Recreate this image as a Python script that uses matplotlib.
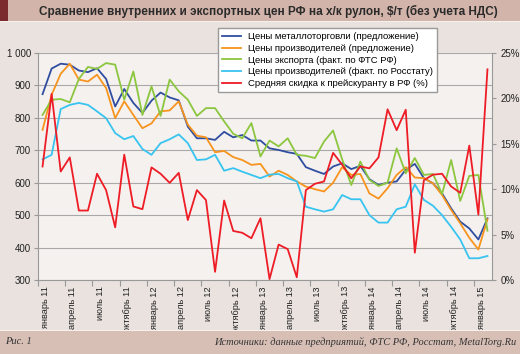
import matplotlib
matplotlib.use('Agg')
import matplotlib.pyplot as plt
import matplotlib.transforms as mtransforms
from matplotlib.patches import Rectangle
from matplotlib.ticker import FuncFormatter
import numpy as np

plt.rcParams['font.family'] = ['Liberation Sans', 'DejaVu Sans']

# monthly, Jan 2011 .. Feb 2015
trade = [873, 952, 967, 964, 946, 941, 953, 920, 835, 889, 846, 815, 853, 878, 863, 854,
         773, 737, 737, 732, 757, 740, 747, 730, 730, 706, 701, 694, 689, 648, 637, 627,
         650, 660, 642, 652, 611, 593, 600, 604, 640, 658, 614, 598, 567, 521, 480, 459,
         425, 490]
producers = [763, 871, 936, 967, 918, 912, 933, 892, 799, 851, 809, 768, 783, 820, 823, 851,
             779, 745, 740, 694, 698, 679, 670, 655, 658, 619, 637, 624, 604, 588, 580, 573,
             600, 648, 624, 627, 567, 551, 583, 624, 648, 616, 614, 598, 562, 516, 475, 430,
             394, 487]
export = [809, 856, 858, 848, 920, 957, 951, 969, 964, 856, 943, 809, 897, 806, 918, 882,
          856, 806, 830, 830, 789, 751, 737, 784, 681, 730, 712, 737, 686, 683, 676, 727,
          761, 672, 593, 665, 609, 590, 600, 706, 629, 676, 624, 627, 565, 670, 544, 621,
          624, 452]
rosstat = [672, 686, 827, 840, 846, 840, 820, 799, 753, 734, 744, 704, 686, 722, 734, 749,
           722, 670, 672, 686, 637, 645, 634, 624, 614, 625, 627, 614, 604, 526, 518, 511,
           518, 562, 549, 549, 500, 477, 477, 518, 526, 595, 547, 529, 500, 464, 425, 367,
           367, 374]
discount = [12.5, 20.5, 11.95, 13.5, 7.65, 7.65, 11.7, 9.9, 5.8, 13.8, 8.1, 7.8, 12.4, 11.7,
            10.7, 11.8, 6.6, 9.9, 8.8, 0.9, 8.75, 5.4, 5.2, 4.6, 6.8, 0.1, 3.9, 3.4, 0.3, 9.9,
            10.6, 10.85, 14.0, 12.7, 11.2, 12.5, 12.3, 13.5, 18.8, 16.5, 18.75, 3.0, 11.0,
            11.6, 11.7, 10.3, 9.6, 14.8, 7.2, 23.2]

month_names = ['январь', 'апрель', 'июль', 'октябрь']
years = ['11', '12', '13', '14', '15']
tick_labels = [f'{m} {y}' for y in years for m in month_names][:17]

names = ['Цены металлоторговли (предложение)',
         'Цены производителей (предложение)',
         'Цены экспорта (факт. по ФТС РФ)',
         'Цены производителей (факт. по Росстату)',
         'Средняя скидка к прейскуранту в РФ (%)']
colors = ['#2f4ea0', '#f7941e', '#8cc63e', '#38c4f0', '#ee1c25']

W, H = 520, 354
fig = plt.figure(figsize=(W / 100, H / 100), dpi=100, facecolor='#e9e2de')

# title band and footer band (footer sits over the ends of the long tick labels)
fig.add_artist(Rectangle((0, 1 - 21 / H), 1, 21 / H, transform=fig.transFigure,
                         facecolor='#d2b4aa', edgecolor='none', zorder=10))
fig.add_artist(Rectangle((0, 1 - 21 / H), 8 / W, 21 / H, transform=fig.transFigure,
                         facecolor='#7b2a2d', edgecolor='none', zorder=10))
fig.add_artist(Rectangle((0, 1 - 22 / H), 1, 1 / H, transform=fig.transFigure,
                         facecolor='#f6f1ee', edgecolor='none', zorder=10))
fig.add_artist(Rectangle((0, 0), 1, 23 / H, transform=fig.transFigure,
                         facecolor='#d8bfb6', edgecolor='none', zorder=10))
fig.add_artist(Rectangle((0, 23 / H), 1, 1 / H, transform=fig.transFigure,
                         facecolor='#f6f1ee', edgecolor='none', zorder=10))

fig.text(268 / W, 1 - 11 / H,
         'Сравнение внутренних и экспортных цен РФ на х/к рулон, $/т (без учета НДС)',
         ha='center', va='center', fontsize=8.5, fontweight='bold', color='#2a2a2a',
         zorder=11)
fig.text(5 / W, 12 / H, 'Рис. 1', ha='left', va='center', fontsize=7.5,
         family='Liberation Serif', style='italic', color='#333333', zorder=11)
fig.text(516 / W, 12 / H, 'Источники: данные предприятий, ФТС РФ, Росстат, MetalTorg.Ru',
         ha='right', va='center', fontsize=7.5, family='Liberation Serif', style='italic',
         color='#333333', zorder=11)

ax = fig.add_axes([38 / W, 74 / H, 454 / W, 227 / H])
ax.set_facecolor('#f5f1ef')
x = np.arange(len(trade))
lines = []
for ys, c in zip([trade, producers, export, rosstat], colors[:4]):
    l, = ax.plot(x, ys, color=c, lw=1.3)
    lines.append(l)

ax.set_xlim(-0.5, len(trade) - 0.5)
ax.set_ylim(300, 1000)
ax.set_yticks(range(300, 1001, 100))
ax.yaxis.set_major_formatter(FuncFormatter(lambda v, p: f'{int(v):,}'.replace(',', ' ')))
ax.yaxis.grid(True, color='#a9a9a9', lw=0.8)
ax.set_axisbelow(True)
ax.tick_params(axis='y', length=3, color='#999999', labelsize=7, pad=2, labelcolor='#222222')

ax.set_xticks(np.arange(-0.5, len(trade), 3))
ax.set_xticklabels([])
ax.set_xticks(np.arange(0, len(trade), 3), minor=True)
ax.set_xticklabels(tick_labels, minor=True, rotation=90, va='top', ha='center',
                   fontsize=6.6, color='#222222')
ax.tick_params(axis='x', which='major', length=4, color='#999999')
ax.tick_params(axis='x', which='minor', length=0, pad=4.5)
offset = mtransforms.ScaledTranslation(3 / 100, 0, fig.dpi_scale_trans)
for lab in ax.xaxis.get_minorticklabels():
    lab.set_transform(lab.get_transform() + offset)

for s in ['top', 'right']:
    ax.spines[s].set_visible(False)
for s in ['left', 'bottom']:
    ax.spines[s].set_color('#999999')

ax2 = ax.twinx()
l, = ax2.plot(x, discount, color=colors[4], lw=1.3)
lines.append(l)
ax2.set_ylim(0, 25)
ax2.set_yticks(range(0, 26, 5))
ax2.set_yticklabels([f'{v}%' for v in range(0, 26, 5)])
ax2.tick_params(axis='y', length=3, color='#999999', labelsize=7, pad=3, labelcolor='#222222')
for s in ['top', 'left', 'bottom']:
    ax2.spines[s].set_visible(False)
ax2.spines['right'].set_color('#999999')

fig.legend(lines, names, loc='upper left', bbox_to_anchor=(218 / W, 1 - 28 / H),
           bbox_transform=fig.transFigure, frameon=True, fancybox=False,
           edgecolor='#999999', facecolor='white', framealpha=1, fontsize=6.8,
           handlelength=2.0, handletextpad=0.7, labelspacing=0.28, borderpad=0.45,
           borderaxespad=0)

fig.savefig('out.png', dpi=100, facecolor=fig.get_facecolor())
